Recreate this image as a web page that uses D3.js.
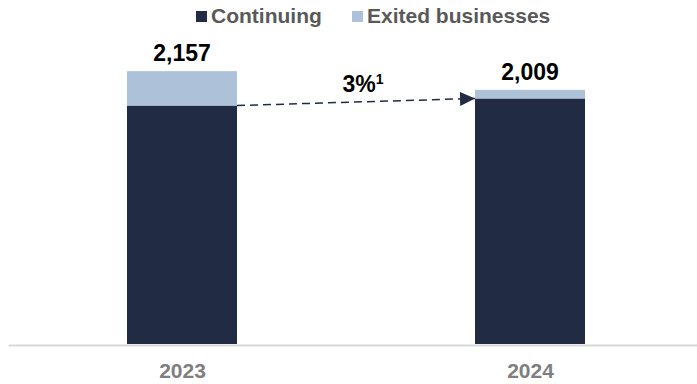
<!DOCTYPE html>
<html>
<head>
<meta charset="utf-8">
<script src="https://cdn.jsdelivr.net/npm/d3@7"></script>
<style>
  html, body { margin: 0; padding: 0; background: #fff; }
  svg { display: block; font-family: "Liberation Sans", Arial, Helvetica, sans-serif; }
</style>
</head>
<body>
<script>
// Revenue by year, split into continuing and exited businesses
const years = ["2023", "2024"];
const continuing = [1885, 1941];
const exited = [272, 68];
const totals = [2157, 2009];
const totalLabels = ["2,157", "2,009"];
const growthLabel = "3%";
const growthNote = "1";
const seriesNames = ["Continuing", "Exited businesses"];

const W = 697, H = 384;
const colDark = "#222b44";
const colLight = "#adc2d8";

const svg = d3.select("body").append("svg")
  .attr("width", W).attr("height", H);

const baseY = 344;
const x = d3.scalePoint().domain(years).range([8, 704]).padding(0.5);
const y = d3.scaleLinear().domain([0, 2500]).range([baseY, baseY - 2500 * 0.1265]);
const barW = 110;

const rows = years.map((yr, i) => ({ yr, c: continuing[i], e: exited[i], t: totals[i], label: totalLabels[i] }));

// stacked bars
const g = svg.append("g");
g.selectAll("rect.cont").data(rows).join("rect")
  .attr("class", "cont")
  .attr("x", d => x(d.yr) - barW / 2)
  .attr("width", barW)
  .attr("y", d => y(d.c))
  .attr("height", d => y(0) - y(d.c))
  .attr("fill", colDark);
g.selectAll("rect.exit").data(rows).join("rect")
  .attr("class", "exit")
  .attr("x", d => x(d.yr) - barW / 2)
  .attr("width", barW)
  .attr("y", d => y(d.c + d.e))
  .attr("height", d => y(d.c) - y(d.c + d.e))
  .attr("fill", colLight);

// total labels
g.selectAll("text.total").data(rows).join("text")
  .attr("class", "total")
  .attr("x", d => x(d.yr))
  .attr("y", d => y(d.t) - 10)
  .attr("text-anchor", "middle")
  .attr("font-size", 23)
  .attr("font-weight", "bold")
  .attr("fill", "#000")
  .text(d => d.label);

// x axis
const axis = svg.append("g")
  .attr("transform", `translate(0,${baseY + 1})`)
  .call(d3.axisBottom(x).tickSize(0).tickSizeOuter(0).tickPadding(18));
axis.select(".domain").attr("stroke", "#d9d9d9").attr("stroke-width", 2);
axis.selectAll("text")
  .attr("font-size", 21)
  .attr("font-weight", "bold")
  .attr("fill", "#7f7f7f")
  .attr("font-family", "\"Liberation Sans\", Arial, sans-serif");

// growth arrow between continuing bar tops
const defs = svg.append("defs");
defs.append("marker")
  .attr("id", "arrowHead")
  .attr("viewBox", "0 0 15 14")
  .attr("refX", 15).attr("refY", 7)
  .attr("markerWidth", 15).attr("markerHeight", 14)
  .attr("markerUnits", "userSpaceOnUse")
  .attr("orient", "auto")
  .append("path")
  .attr("d", "M0,0 L15,7 L0,14 Z")
  .attr("fill", colDark);

const ax1 = x(years[0]) + barW / 2, ay1 = y(continuing[0]);
const ax2 = x(years[1]) - barW / 2, ay2 = y(continuing[1]);
svg.append("line")
  .attr("x1", ax1).attr("y1", ay1)
  .attr("x2", ax2).attr("y2", ay2)
  .attr("stroke", colDark)
  .attr("stroke-width", 1.5)
  .attr("stroke-dasharray", "8,5")
  .attr("marker-end", "url(#arrowHead)");

const gl = svg.append("text")
  .attr("x", (ax1 + ax2) / 2 + 7)
  .attr("y", (ay1 + ay2) / 2 - 10)
  .attr("text-anchor", "middle")
  .attr("font-size", 23)
  .attr("font-weight", "bold")
  .attr("fill", "#000");
gl.append("tspan").text(growthLabel);
gl.append("tspan").attr("font-size", 14).attr("dy", -8).text(growthNote);

// legend
const legend = svg.append("g");
const legItems = [
  { name: seriesNames[0], color: colDark, x: 196 },
  { name: seriesNames[1], color: colLight, x: 352 }
];
const li = legend.selectAll("g").data(legItems).join("g")
  .attr("transform", d => `translate(${d.x},0)`);
li.append("rect").attr("x", 0).attr("y", 11).attr("width", 11).attr("height", 11)
  .attr("fill", d => d.color);
li.append("text").attr("x", 15).attr("y", 23)
  .attr("font-size", 21).attr("font-weight", "bold").attr("fill", "#595959")
  .text(d => d.name);
</script>
</body>
</html>
